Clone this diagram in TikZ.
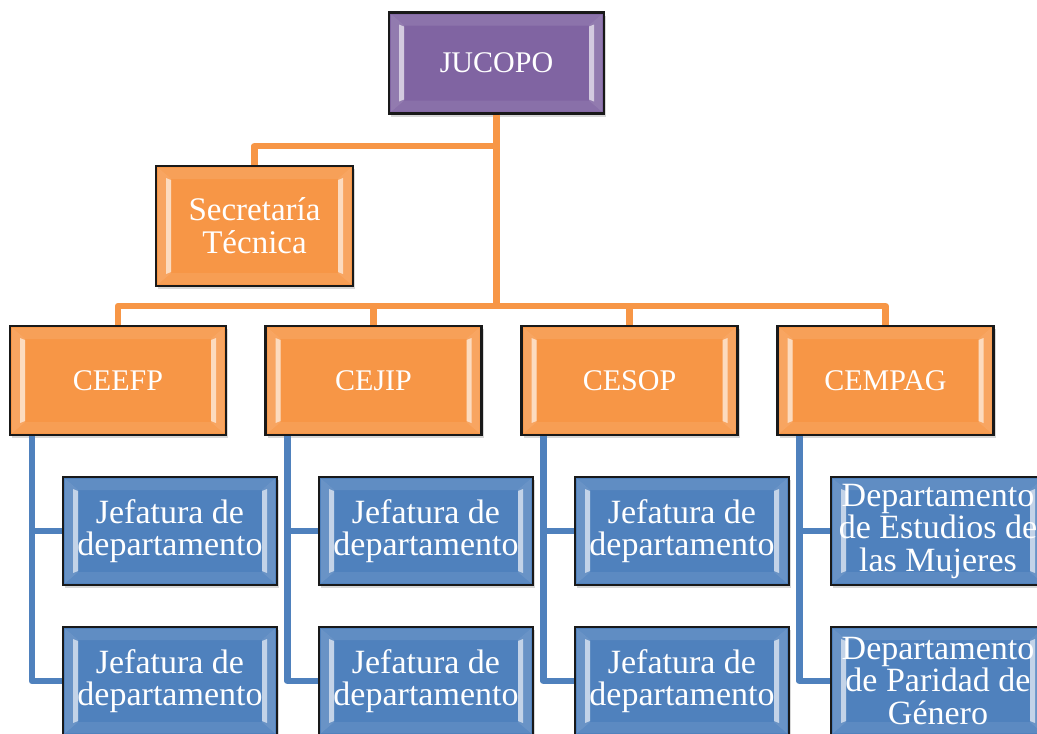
\documentclass[tikz,border=0pt]{standalone}
\usepackage{fontspec}
\setmainfont{Liberation Serif}
\usetikzlibrary{shadows}
\definecolor{jpurple}{HTML}{8064A2}
\definecolor{jorange}{HTML}{F79646}
\definecolor{jblue}{HTML}{4F81BD}
\tikzset{
  bevel/.style={path picture={
    \fill[white,opacity=0.15] ([shift={(2pt,-2pt)}]path picture bounding box.north west) -- ([shift={(15pt,-13pt)}]path picture bounding box.north west) -- ([shift={(15pt,13pt)}]path picture bounding box.south west) -- ([shift={(2pt,2pt)}]path picture bounding box.south west) -- cycle;
    \fill[white,opacity=0.15] ([shift={(-2pt,-2pt)}]path picture bounding box.north east) -- ([shift={(-15pt,-13pt)}]path picture bounding box.north east) -- ([shift={(-15pt,13pt)}]path picture bounding box.south east) -- ([shift={(-2pt,2pt)}]path picture bounding box.south east) -- cycle;
    \fill[white,opacity=0.10] ([shift={(2pt,-2pt)}]path picture bounding box.north west) -- ([shift={(15pt,-13pt)}]path picture bounding box.north west) -- ([shift={(-15pt,-13pt)}]path picture bounding box.north east) -- ([shift={(-2pt,-2pt)}]path picture bounding box.north east) -- cycle;
    \fill[white,opacity=0.08] ([shift={(2pt,2pt)}]path picture bounding box.south west) -- ([shift={(15pt,13pt)}]path picture bounding box.south west) -- ([shift={(-15pt,13pt)}]path picture bounding box.south east) -- ([shift={(-2pt,2pt)}]path picture bounding box.south east) -- cycle;
    \fill[white,opacity=0.6] ([shift={(10pt,-12pt)}]path picture bounding box.north west) -- ([shift={(15pt,-14pt)}]path picture bounding box.north west) -- ([shift={(15pt,14pt)}]path picture bounding box.south west) -- ([shift={(10pt,12pt)}]path picture bounding box.south west) -- cycle;
    \fill[white,opacity=0.6] ([shift={(-10pt,-12pt)}]path picture bounding box.north east) -- ([shift={(-15pt,-14pt)}]path picture bounding box.north east) -- ([shift={(-15pt,14pt)}]path picture bounding box.south east) -- ([shift={(-10pt,12pt)}]path picture bounding box.south east) -- cycle;
  }},
  box/.style={draw=black!90, line width=2.2pt, text=white, align=center, inner sep=0pt,
    drop shadow={shadow xshift=2pt, shadow yshift=-3pt, opacity=0.3}, bevel},
  topbox/.style={box, fill=jpurple, minimum width=215, minimum height=101, font=\fontsize{30pt}{32pt}\selectfont},
  secbox/.style={box, fill=jorange, minimum width=197, minimum height=120, font=\fontsize{33pt}{33pt}\selectfont},
  cbox/.style={box, fill=jorange, minimum width=216, minimum height=109, font=\fontsize{30pt}{32pt}\selectfont},
  dbox/.style={box, fill=jblue, minimum width=214, minimum height=108, font=\fontsize{34pt}{32.5pt}\selectfont},
  oline/.style={draw=jorange, line width=6.5pt, line join=round},
  bline/.style={draw=jblue, line width=6.5pt, line join=round},
}
\begin{document}
\begin{tikzpicture}[x=1pt,y=-1pt]
\useasboundingbox (0,0) rectangle (1037,734);
\clip (0,0) rectangle (1037,734);
\fill[white] (0,0) rectangle (1037,734);
% nodes
\node[topbox] (jucopo) at (496.5,63) {JUCOPO};
\node[secbox] (sec) at (254.5,226) {Secretaría\\Técnica};
\node[cbox] (ceefp) at (118,380.5) {CEEFP};
\node[cbox] (cejip) at (373.5,380.5) {CEJIP};
\node[cbox] (cesop) at (629.5,380.5) {CESOP};
\node[cbox] (cempag) at (885.5,380.5) {CEMPAG};
\node[dbox] (j11) at (170,531) {Jefatura de\\departamento};
\node[dbox] (j12) at (170,681) {Jefatura de\\departamento};
\node[dbox] (j21) at (426,531) {Jefatura de\\departamento};
\node[dbox] (j22) at (426,681) {Jefatura de\\departamento};
\node[dbox] (j31) at (682,531) {Jefatura de\\departamento};
\node[dbox] (j32) at (682,681) {Jefatura de\\departamento};
\node[dbox] (j41) at (938,531) {Departamento\\de Estudios de\\las Mujeres};
\node[dbox] (j42) at (938,681) {Departamento\\de Paridad de\\Género};
% orange connectors
\coordinate (hub) at (496.5,306);
\coordinate (sj) at (496.5,146);
\draw[oline] (jucopo.south) -- (hub);
\draw[oline] (sj) -| (sec.north);
\draw[oline] (ceefp.north) |- (hub) -| (cempag.north);
\draw[oline] (cejip.north) -- (cejip.north |- hub);
\draw[oline] (cesop.north) -- (cesop.north |- hub);
% blue connectors
\draw[bline] ([xshift=23pt]ceefp.south west) coordinate (t1) |- (j12.west);
\draw[bline] (j11.west) -- (j11.west -| t1);
\draw[bline] ([xshift=23pt]cejip.south west) coordinate (t2) |- (j22.west);
\draw[bline] (j21.west) -- (j21.west -| t2);
\draw[bline] ([xshift=23pt]cesop.south west) coordinate (t3) |- (j32.west);
\draw[bline] (j31.west) -- (j31.west -| t3);
\draw[bline] ([xshift=23pt]cempag.south west) coordinate (t4) |- (j42.west);
\draw[bline] (j41.west) -- (j41.west -| t4);
\end{tikzpicture}
\end{document}
